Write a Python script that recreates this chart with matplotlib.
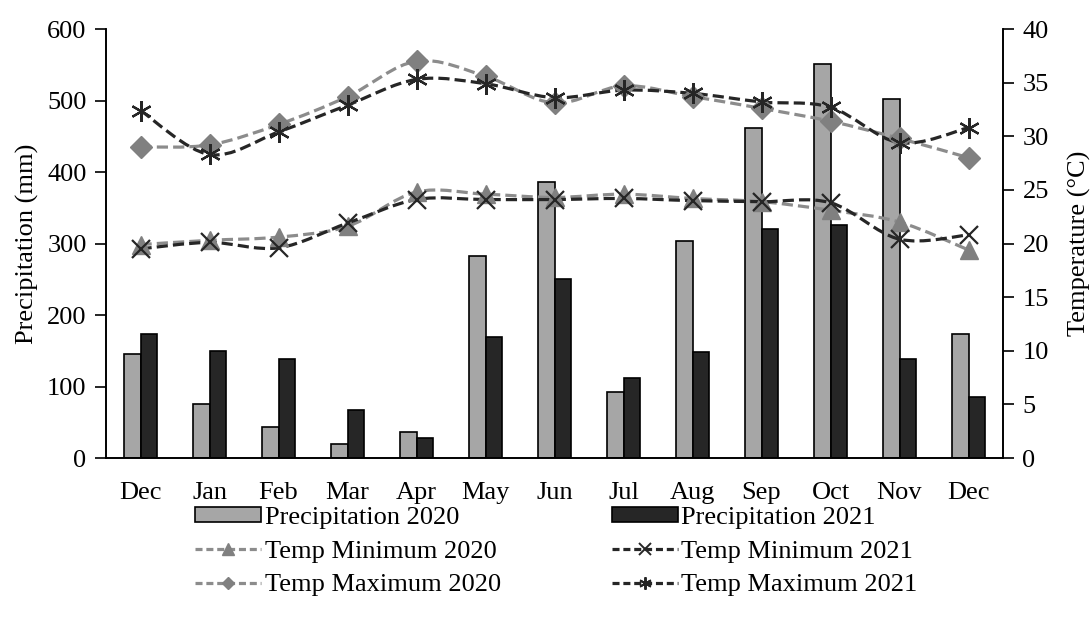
import numpy as np
import matplotlib
matplotlib.use("Agg")
import matplotlib.pyplot as plt
from matplotlib.path import Path
from matplotlib.patches import PathPatch, Patch
from matplotlib.lines import Line2D

months = ["Dec", "Jan", "Feb", "Mar", "Apr", "May", "Jun",
          "Jul", "Aug", "Sep", "Oct", "Nov", "Dec"]

precip_2020 = [145, 75, 43, 19, 36, 282, 386, 93, 304, 462, 551, 502, 174]
precip_2021 = [174, 150, 138, 67, 28, 169, 251, 112, 148, 321, 326, 138, 85]

tmin_2020 = [19.9, 20.3, 20.6, 21.6, 24.8, 24.6, 24.3, 24.6, 24.2, 23.9, 23.1, 22.0, 19.4]
tmin_2021 = [19.5, 20.1, 19.6, 21.9, 24.1, 24.1, 24.1, 24.2, 24.0, 23.9, 23.8, 20.4, 20.8]
tmax_2020 = [29.0, 29.2, 31.1, 33.7, 37.0, 35.6, 33.1, 34.7, 33.7, 32.6, 31.4, 29.8, 28.0]
tmax_2021 = [32.4, 28.3, 30.4, 32.9, 35.3, 34.9, 33.6, 34.3, 34.0, 33.2, 32.7, 29.4, 30.8]

plt.rcParams["font.family"] = ["Liberation Serif", "DejaVu Serif"]
plt.rcParams["font.size"] = 19

LIGHT = "#a6a6a6"
DARK = "#262626"
GREY_LINE = "#8c8c8c"
GREY_MARK = "#808080"

fig = plt.figure(figsize=(10.92, 6.24), dpi=100)
ax = fig.add_axes([0.0971, 0.266, 0.8214, 0.6875])
ax2 = ax.twinx()

x = np.arange(len(months))
w = 0.24
ax.bar(x - w / 2, precip_2020, width=w, color=LIGHT, edgecolor="black", linewidth=1.2, zorder=2)
ax.bar(x + w / 2, precip_2021, width=w, color=DARK, edgecolor="black", linewidth=1.2, zorder=2)

ax.set_xlim(-0.5, len(months) - 0.5)
ax.set_ylim(0, 600)
ax.set_yticks(np.arange(0, 601, 100))
ax.set_xticks(x)
ax.set_xticklabels(months)
ax.tick_params(axis="x", length=0, pad=17)
ax.tick_params(axis="y", direction="out", length=8, width=1.2, pad=6)
ax.set_ylabel("Precipitation (mm)", labelpad=6)

ax2.set_ylim(0, 40)
ax2.set_yticks(np.arange(0, 41, 5))
ax2.tick_params(axis="y", direction="out", length=8, width=1.2, pad=6)
ax2.set_ylabel("Temperature (°C)", labelpad=14)

for a in (ax, ax2):
    a.spines["top"].set_visible(False)
    for s in ("left", "right", "bottom"):
        a.spines[s].set_linewidth(1.2)


def smooth_path(xs, ys):
    """Cubic Bezier path through the points (Catmull-Rom style tangents)."""
    pts = np.column_stack([xs, ys]).astype(float)
    n = len(pts)
    verts = [pts[0]]
    codes = [Path.MOVETO]
    for i in range(n - 1):
        p0 = pts[i - 1] if i > 0 else pts[i]
        p1 = pts[i]
        p2 = pts[i + 1]
        p3 = pts[i + 2] if i + 2 < n else pts[i + 1]
        c1 = p1 + (p2 - p0) / 6.0
        c2 = p2 - (p3 - p1) / 6.0
        verts.extend([c1, c2, p2])
        codes.extend([Path.CURVE4] * 3)
    return Path(verts, codes)


series = [
    (tmin_2020, GREY_LINE, "^", GREY_MARK, 13, 1.0),
    (tmax_2020, GREY_LINE, "D", GREY_MARK, 11, 1.0),
    (tmin_2021, DARK, "x", DARK, 13, 1.6),
    (tmax_2021, DARK, (6, 2, 0), DARK, 15, 1.6),
]
for vals, lc, mk, mc, ms, mew in series:
    patch = PathPatch(smooth_path(x, vals), fill=False, edgecolor=lc,
                      linewidth=2.3, linestyle=(0, (3.5, 1.6)), zorder=3)
    ax2.add_patch(patch)
    ax2.plot(x, vals, linestyle="none", marker=mk, markersize=ms,
             color=mc, markeredgecolor=mc, markeredgewidth=mew, zorder=4)

handles = [
    Patch(facecolor=LIGHT, edgecolor="black", linewidth=1.2),
    Line2D([], [], color=GREY_LINE, linestyle=(0, (2.2, 1.2)), linewidth=2.3,
           marker="^", markersize=8, markerfacecolor=GREY_MARK, markeredgecolor=GREY_MARK),
    Line2D([], [], color=GREY_LINE, linestyle=(0, (2.2, 1.2)), linewidth=2.3,
           marker="D", markersize=6, markerfacecolor=GREY_MARK, markeredgecolor=GREY_MARK),
    Patch(facecolor=DARK, edgecolor="black", linewidth=1.2),
    Line2D([], [], color=DARK, linestyle=(0, (2.2, 1.2)), linewidth=2.3,
           marker="x", markersize=8, markeredgewidth=1.4),
    Line2D([], [], color=DARK, linestyle=(0, (2.2, 1.2)), linewidth=2.3,
           marker=(6, 2, 0), markersize=9, markeredgewidth=1.4),
]
labels = ["Precipitation 2020", "Temp Minimum 2020", "Temp Maximum 2020",
          "Precipitation 2021", "Temp Minimum 2021", "Temp Maximum 2021"]
fig.legend(handles, labels, ncol=2, loc="upper left", bbox_to_anchor=(0.179, 0.187),
           frameon=False, handlelength=2.5, handleheight=0.5, handletextpad=0.12,
           columnspacing=4.2, labelspacing=0.43, borderaxespad=0, borderpad=0)

fig.savefig("out.png", dpi=100)
